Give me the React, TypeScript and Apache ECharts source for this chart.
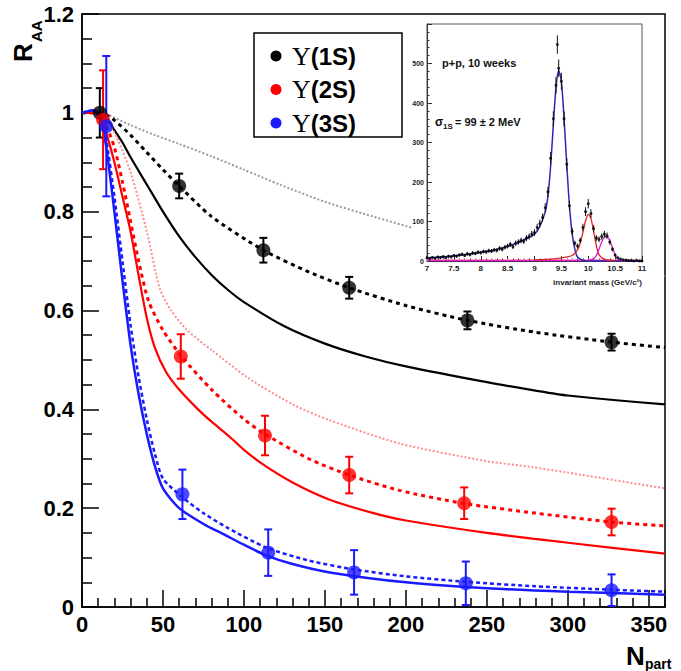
import React, { useEffect, useRef } from "react";
import * as echarts from "echarts";

// ---- Main plot: model curves (N_part, R_AA) ----
const grayDotX = [0, 8, 12, 20, 30, 45, 60, 80, 100, 122, 150, 180, 210, 250, 300, 360];
const grayDotY = [1, 1, 1.0, 0.99, 0.975, 0.955, 0.937, 0.912, 0.885, 0.855, 0.82, 0.79, 0.762, 0.73, 0.70, 0.67];

const blackSolidX = [0, 8, 12, 16, 20, 25, 30, 40, 50, 60, 70, 80, 90, 100, 125, 150, 175, 200, 250, 280, 300, 360];
const blackSolidY = [1, 1, 0.997, 0.985, 0.965, 0.94, 0.91, 0.855, 0.8, 0.75, 0.708, 0.672, 0.642, 0.617, 0.568, 0.533, 0.507, 0.487, 0.455, 0.438, 0.428, 0.41];

const blackDashX = [0, 8, 12, 20, 30, 40, 50, 60, 80, 112, 140, 165, 200, 238, 280, 327, 360];
const blackDashY = [1, 1, 1.0, 0.985, 0.955, 0.92, 0.885, 0.852, 0.79, 0.722, 0.678, 0.646, 0.61, 0.58, 0.556, 0.536, 0.525];

const pinkDotX = [0, 8, 12, 20, 30, 40, 48, 55, 65, 80, 102, 130, 153, 196, 250, 278, 300, 360];
const pinkDotY = [1, 1, 0.995, 0.96, 0.88, 0.76, 0.645, 0.6, 0.56, 0.52, 0.465, 0.41, 0.378, 0.331, 0.295, 0.283, 0.272, 0.24];

const redSolidX = [0, 8, 12, 15, 20, 25, 30, 35, 40, 45, 52, 60, 71, 80, 91, 100, 112, 130, 153, 180, 200, 250, 300, 360];
const redSolidY = [1, 1, 0.99, 0.96, 0.9, 0.83, 0.76, 0.67, 0.585, 0.525, 0.475, 0.44, 0.402, 0.375, 0.345, 0.318, 0.288, 0.252, 0.217, 0.19, 0.175, 0.15, 0.13, 0.108];

const redDashX = [0, 8, 12, 15, 20, 25, 30, 35, 41, 50, 62, 80, 100, 113, 140, 165, 196, 235, 280, 327, 360];
const redDashY = [1, 1, 0.995, 0.975, 0.93, 0.86, 0.78, 0.7, 0.62, 0.56, 0.505, 0.44, 0.38, 0.35, 0.3, 0.267, 0.236, 0.21, 0.19, 0.172, 0.164];

const blueSolidX = [0, 7, 10, 12, 15, 20, 25, 30, 35, 40, 45, 50, 60, 75, 87, 100, 114, 130, 153, 200, 250, 300, 360];
const blueSolidY = [1, 1.005, 1, 0.98, 0.93, 0.8, 0.66, 0.53, 0.43, 0.35, 0.285, 0.24, 0.2, 0.168, 0.148, 0.126, 0.104, 0.087, 0.07, 0.05, 0.038, 0.031, 0.025];

const blueDashX = [0, 7, 10, 12, 15, 20, 25, 30, 35, 40, 45, 50, 62, 75, 90, 114, 140, 168, 200, 237, 280, 327, 360];
const blueDashY = [1, 1.005, 1, 0.985, 0.945, 0.83, 0.7, 0.57, 0.465, 0.38, 0.31, 0.26, 0.222, 0.19, 0.16, 0.12, 0.094, 0.076, 0.062, 0.051, 0.042, 0.035, 0.031];

// ---- Main plot: measured points ----
const ups1SX = [11, 60, 112, 165, 238, 327];
const ups1SY = [1.0, 0.852, 0.722, 0.646, 0.58, 0.536];
const ups1SErr = [0.05, 0.025, 0.025, 0.022, 0.018, 0.017];

const ups2SX = [13, 61, 113, 165, 236, 327];
const ups2SY = [0.986, 0.507, 0.347, 0.267, 0.21, 0.172];
const ups2SErr = [0.1, 0.045, 0.04, 0.037, 0.032, 0.027];

const ups3SX = [15, 62, 115, 168, 237, 327];
const ups3SY = [0.973, 0.228, 0.11, 0.07, 0.048, 0.034];
const ups3SErr = [0.142, 0.05, 0.047, 0.045, 0.044, 0.032];

const xTicks = [0, 50, 100, 150, 200, 250, 300, 350];
const yTicks = [0, 0.2, 0.4, 0.6, 0.8, 1, 1.2];

const legendLabels = ["(1S)", "(2S)", "(3S)"];

// ---- Inset: invariant mass spectrum ----
const massX = [
  7.0, 7.05, 7.1, 7.15, 7.2, 7.25, 7.3, 7.35, 7.4, 7.45,
  7.5, 7.55, 7.6, 7.65, 7.7, 7.75, 7.8, 7.85, 7.9, 7.95,
  8.0, 8.05, 8.1, 8.15, 8.2, 8.25, 8.3, 8.35, 8.4, 8.45,
  8.5, 8.55, 8.6, 8.65, 8.7, 8.75, 8.8, 8.85, 8.9, 8.95,
  9.0, 9.05, 9.1, 9.15, 9.2, 9.25, 9.3, 9.35, 9.4, 9.45,
  9.5, 9.55, 9.6, 9.65, 9.7, 9.75, 9.8, 9.85, 9.9, 9.95,
  10.0, 10.05, 10.1, 10.15, 10.2, 10.25, 10.3, 10.35, 10.4, 10.45,
  10.5, 10.55, 10.6, 10.65, 10.7, 10.75, 10.8, 10.85, 10.9, 10.95, 11.0,
];
const counts = [
  8, 6, 9, 7, 10, 9, 11, 8, 12, 10,
  14, 12, 15, 17, 14, 18, 16, 20, 19, 22,
  21, 24, 23, 26, 25, 28, 27, 32, 30, 35,
  38, 42, 36, 45, 48, 52, 50, 58, 62, 68,
  72, 85, 95, 110, 135, 175, 260, 360, 445, 488,
  455, 360, 245, 140, 75, 45, 38, 52, 85, 125,
  145, 120, 82, 58, 55, 62, 68, 64, 48, 30,
  15, 8, 5, 3, 2, 1, 1, 0, 1, 0, 0,
];
const outlierX = [9.425];
const outlierY = [548];

const fit1SX = [7, 7.25, 7.5, 7.75, 8, 8.25, 8.5, 8.75, 9, 9.1, 9.2, 9.25, 9.3, 9.35, 9.4, 9.45, 9.5, 9.55, 9.6, 9.65, 9.7, 9.75, 9.8, 9.9, 10, 11];
const fit1SY = [8, 10, 13, 17, 22, 28, 37, 50, 68, 88, 125, 165, 240, 345, 440, 482, 455, 360, 245, 140, 70, 30, 10, 2, 0, 0];
const fit2SX = [9, 9.3, 9.5, 9.7, 9.8, 9.85, 9.9, 9.95, 10, 10.05, 10.1, 10.15, 10.2, 10.3, 10.5];
const fit2SY = [3, 5, 8, 14, 28, 45, 72, 102, 118, 108, 75, 40, 16, 4, 0];
const fit3SX = [10, 10.1, 10.15, 10.2, 10.25, 10.3, 10.35, 10.4, 10.45, 10.5, 10.55, 10.6, 10.7];
const fit3SY = [2, 6, 14, 30, 48, 60, 62, 52, 34, 16, 6, 2, 0];
const baseX = [7, 11];
const baseY = [1, 1];
const bgDotY = [3, 3];

const FONT = "Liberation Sans, Arial, sans-serif";

const pairs = (xs: number[], ys: number[]) => xs.map((x, i) => [x, ys[i]]);
const triples = (xs: number[], ys: number[], es: number[]) => xs.map((x, i) => [x, ys[i], es[i]]);

function errBar(color: string, width: number, cap: number) {
  return (params: any, api: any) => {
    const x = api.value(0);
    const y = api.value(1);
    const e = api.value(2);
    const p1 = api.coord([x, y + e]);
    const p2 = api.coord([x, y - e]);
    const st = { stroke: color, lineWidth: width };
    return {
      type: "group",
      children: [
        { type: "line", shape: { x1: p1[0], y1: p1[1], x2: p2[0], y2: p2[1] }, style: st },
        { type: "line", shape: { x1: p1[0] - cap, y1: p1[1], x2: p1[0] + cap, y2: p1[1] }, style: st },
        { type: "line", shape: { x1: p2[0] - cap, y1: p2[1], x2: p2[0] + cap, y2: p2[1] }, style: st },
      ],
    };
  };
}

function insetErr(params: any, api: any) {
  const x = api.value(0);
  const y = api.value(1);
  const e = Math.sqrt(Math.max(y, 1));
  const p1 = api.coord([x, y + e]);
  const p2 = api.coord([x, Math.max(y - e, 0)]);
  return {
    type: "line",
    shape: { x1: p1[0], y1: p1[1], x2: p2[0], y2: p2[1] },
    style: { stroke: "#111", lineWidth: 1 },
  };
}

function line(xs: number[], ys: number[], color: string, width: number, type: any, z = 2, axis = 0) {
  return {
    type: "line",
    xAxisIndex: axis,
    yAxisIndex: axis,
    data: pairs(xs, ys),
    showSymbol: false,
    smooth: 0.25,
    lineStyle: { color, width, type },
    z,
    silent: true,
  };
}

export default function App() {
  const ref = useRef<HTMLDivElement>(null);
  useEffect(() => {
    if (!ref.current) return;
    const chart = echarts.init(ref.current, null, { renderer: "svg" });
    const mainLabel = { fontFamily: FONT, fontWeight: "bold", fontSize: 22, color: "#000" };
    const option: any = {
      animation: false,
      backgroundColor: "#fff",
      grid: [
        { left: 82, top: 14, right: 16, bottom: 64, show: true, borderColor: "#000", borderWidth: 1.5, outerBoundsMode: "none", z: 2 },
        { left: 427, top: 24, right: 39, bottom: 410, show: true, backgroundColor: "#fff", borderColor: "#555", borderWidth: 1, outerBoundsMode: "none", z: 11 },
      ],
      xAxis: [
        {
          gridIndex: 0, type: "value", min: 0, max: 360, interval: 50,
          axisLine: { show: true, lineStyle: { color: "#000", width: 1.5 } },
          axisTick: { show: true, inside: true, length: 17, lineStyle: { color: "#000", width: 1.5 } },
          minorTick: { show: true, splitNumber: 5, length: 9, lineStyle: { color: "#000", width: 1.5 } },
          splitLine: { show: false },
          axisLabel: { ...mainLabel, margin: 6, showMaxLabel: false, formatter: (v: number) => (xTicks.includes(v) ? String(v) : "") },
        },
        {
          gridIndex: 1, type: "value", min: 7, max: 11, interval: 0.5, z: 12,
          axisLine: { show: true, lineStyle: { color: "#333", width: 1 } },
          axisTick: { show: true, inside: true, length: 5, lineStyle: { color: "#333" } },
          minorTick: { show: true, splitNumber: 5, length: 2.5, lineStyle: { color: "#333" } },
          splitLine: { show: false },
          axisLabel: { fontFamily: FONT, fontWeight: "bold", fontSize: 8, color: "#222", margin: 3 },
        },
      ],
      yAxis: [
        {
          gridIndex: 0, type: "value", min: 0, max: 1.2, interval: 0.2,
          axisLine: { show: true, lineStyle: { color: "#000", width: 1.5 } },
          axisTick: { show: true, inside: true, length: 17, lineStyle: { color: "#000", width: 1.5 } },
          minorTick: { show: true, splitNumber: 4, length: 10, lineStyle: { color: "#000", width: 1.5 } },
          splitLine: { show: false },
          axisLabel: { ...mainLabel, margin: 8, formatter: (v: number) => (yTicks.some((t) => Math.abs(t - v) < 1e-6) ? String(Math.round(v * 10) / 10) : "") },
        },
        {
          gridIndex: 1, type: "value", min: 0, max: 600, interval: 100, z: 12,
          axisLine: { show: true, lineStyle: { color: "#333", width: 1 } },
          axisTick: { show: true, inside: true, length: 5, lineStyle: { color: "#333" } },
          minorTick: { show: true, splitNumber: 5, length: 2.5, lineStyle: { color: "#333" } },
          splitLine: { show: false },
          axisLabel: { fontFamily: FONT, fontWeight: "bold", fontSize: 7, color: "#222", margin: 3, showMaxLabel: false },
        },
      ],
      series: [
        line(grayDotX, grayDotY, "#9a9a9a", 2, [2, 2]),
        line(blackSolidX, blackSolidY, "#000", 2.2, "solid"),
        line(blackDashX, blackDashY, "#000", 3, [4, 4]),
        line(pinkDotX, pinkDotY, "#ff8c8c", 2, [2, 2]),
        line(redSolidX, redSolidY, "#ff0000", 2.2, "solid"),
        line(redDashX, redDashY, "#ff0000", 3, [4, 4]),
        line(blueSolidX, blueSolidY, "#1a1aff", 2.5, "solid"),
        line(blueDashX, blueDashY, "#1a1aff", 2.5, [4, 3]),
        { type: "custom", renderItem: errBar("#000", 2, 4), data: triples(ups1SX, ups1SY, ups1SErr), encode: { x: 0, y: 1 }, z: 3 },
        { type: "custom", renderItem: errBar("#ff0000", 2, 4), data: triples(ups2SX, ups2SY, ups2SErr), encode: { x: 0, y: 1 }, z: 3 },
        { type: "custom", renderItem: errBar("#1a1aff", 2, 4), data: triples(ups3SX, ups3SY, ups3SErr), encode: { x: 0, y: 1 }, z: 3 },
        { type: "scatter", data: pairs(ups1SX, ups1SY), symbol: "circle", symbolSize: 14, itemStyle: { color: "#000" }, z: 4 },
        { type: "scatter", data: pairs(ups2SX, ups2SY), symbol: "circle", symbolSize: 14, itemStyle: { color: "#ff0000" }, z: 4 },
        { type: "scatter", data: pairs(ups3SX, ups3SY), symbol: "circle", symbolSize: 14, itemStyle: { color: "#1a1aff" }, z: 4 },
        // inset
        line(baseX, baseY, "#e000e0", 1.5, "solid", 13, 1),
        line(baseX, bgDotY, "#ff7f9f", 1.5, [2, 2], 13, 1),
        line(fit1SX, fit1SY, "#2828b4", 1.5, "solid", 13, 1),
        line(fit2SX, fit2SY, "#e02020", 1.3, "solid", 13, 1),
        line(fit3SX, fit3SY, "#d020d0", 1.3, "solid", 13, 1),
        { type: "custom", xAxisIndex: 1, yAxisIndex: 1, renderItem: insetErr, data: pairs(massX, counts), encode: { x: 0, y: 1 }, z: 14 },
        { type: "custom", xAxisIndex: 1, yAxisIndex: 1, renderItem: insetErr, data: pairs(outlierX, outlierY), encode: { x: 0, y: 1 }, z: 14 },
        { type: "scatter", xAxisIndex: 1, yAxisIndex: 1, data: pairs(massX, counts), symbolSize: 3, itemStyle: { color: "#000" }, z: 14 },
        { type: "scatter", xAxisIndex: 1, yAxisIndex: 1, data: pairs(outlierX, outlierY), symbolSize: 3, itemStyle: { color: "#000" }, z: 14 },
      ],
      graphic: {
        elements: [
          { type: "rect", shape: { x: 412, y: 15.5, width: 252, height: 283 }, style: { fill: "#fff" }, z: 10, silent: true },
          { type: "text", x: 442, y: 63, z: 15, style: { text: "p+p, 10 weeks", font: `bold 11px ${FONT}`, fill: "#111", textAlign: "left", align: "left", textVerticalAlign: "middle", verticalAlign: "middle" } },
          { type: "text", x: 435, y: 122, z: 15, style: { text: "σ", font: `bold 12px ${FONT}`, fill: "#111", textAlign: "left", align: "left", textVerticalAlign: "middle", verticalAlign: "middle" } },
          { type: "text", x: 443, y: 126, z: 15, style: { text: "1S", font: `bold 8px ${FONT}`, fill: "#111", textAlign: "left", align: "left", textVerticalAlign: "middle", verticalAlign: "middle" } },
          { type: "text", x: 455, y: 122, z: 15, style: { text: "= 99 ± 2 MeV", font: `bold 11px ${FONT}`, fill: "#111", textAlign: "left", align: "left", textVerticalAlign: "middle", verticalAlign: "middle" } },
          { type: "text", x: 642, y: 282, z: 15, style: { text: "invariant mass (GeV/c²)", font: `bold 8px ${FONT}`, fill: "#222", textAlign: "right", align: "right", textVerticalAlign: "middle", verticalAlign: "middle" } },
          // legend
          { type: "rect", shape: { x: 254, y: 33, width: 148, height: 104 }, style: { fill: "#fff", stroke: "#000", lineWidth: 1.5 }, z: 15 },
          ...legendLabels.map((lab, i) => ({
            type: "circle", shape: { cx: 276, cy: 56 + i * 33.5, r: 5.5 }, style: { fill: ["#000", "#ff0000", "#1a1aff"][i] }, z: 16,
          })),
          ...legendLabels.map((lab, i) => ({
            type: "text", x: 292, y: 56 + i * 33.5, z: 16,
            style: {
              text: `{u|Υ}${lab}`, font: `bold 24px ${FONT}`, fill: "#000", textAlign: "left", align: "left", textVerticalAlign: "middle", verticalAlign: "middle",
              rich: { u: { fontFamily: "Liberation Serif", fontSize: 26, fontWeight: "normal", fill: "#000" } },
            },
          })),
          // axis titles
          { type: "text", x: 23, y: 62, rotation: Math.PI / 2, z: 16, style: { text: "R", font: `bold 26px ${FONT}`, fill: "#000", textAlign: "left", align: "left", textVerticalAlign: "middle", verticalAlign: "middle" } },
          { type: "text", x: 36, y: 42, rotation: Math.PI / 2, z: 16, style: { text: "AA", font: `bold 15px ${FONT}`, fill: "#000", textAlign: "left", align: "left", textVerticalAlign: "middle", verticalAlign: "middle" } },
          { type: "text", x: 626, y: 669, z: 16, style: { text: "N", font: `bold 26px ${FONT}`, fill: "#000", textAlign: "left", align: "left", textVerticalAlign: "bottom", verticalAlign: "bottom" } },
          { type: "text", x: 645, y: 671, z: 16, style: { text: "part", font: `bold 14px ${FONT}`, fill: "#000", textAlign: "left", align: "left", textVerticalAlign: "bottom", verticalAlign: "bottom" } },
        ],
      },
    };
    chart.setOption(option);
    return () => chart.dispose();
  }, []);
  return <div ref={ref} style={{ position: "absolute", left: 0, top: 0, width: 681, height: 671 }} />;
}
